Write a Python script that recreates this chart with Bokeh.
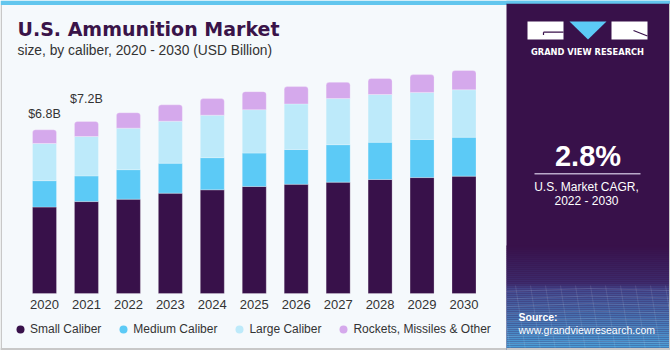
from bokeh.plotting import figure
from bokeh.models import ColumnDataSource, Range1d, Legend, LegendItem
from bokeh.core.properties import value
from bokeh.embed import file_html
from bokeh.resources import INLINE

# ---------------- data ----------------
years = [2020, 2021, 2022, 2023, 2024, 2025, 2026, 2027, 2028, 2029, 2030]
small_caliber = [3.60, 3.83, 3.93, 4.18, 4.32, 4.46, 4.55, 4.64, 4.75, 4.83, 4.89]
medium_caliber = [1.10, 1.07, 1.23, 1.25, 1.34, 1.39, 1.45, 1.56, 1.55, 1.59, 1.62]
large_caliber = [1.55, 1.64, 1.73, 1.75, 1.77, 1.81, 1.90, 1.92, 1.99, 1.96, 1.98]
rockets_other = [0.57, 0.63, 0.64, 0.68, 0.69, 0.75, 0.72, 0.68, 0.67, 0.74, 0.80]
series_names = ["Small Caliber", "Medium Caliber", "Large Caliber",
                "Rockets, Missiles & Other"]
series_keys = ["small", "medium", "large", "rockets"]
series_colors = ["#38114a", "#5ccaf6", "#bdeafa", "#d5a9ec"]
year_labels = [str(y) for y in years]
label_years = [2020, 2021]
label_texts = ["$6.8B", "$7.2B"]
title_text = "U.S. Ammunition Market"
subtitle_text = "size, by caliber, 2020 - 2030 (USD Billion)"
cagr_value = "2.8%"
cagr_lines = ["U.S. Market CAGR,", "2022 - 2030"]

TXT = "#333333"
PURPLE = "#38114a"
BG = "#f5f9fc"
FONT = "Liberation Sans"

W, H = 670, 350
BASE = 293          # pixel row of the bar baseline
PX_PER_B = 24.0
spacing_px = 41.95
x0 = years[0] - 44.0 / spacing_px
x1 = x0 + W / spacing_px

p = figure(width=W, height=H, x_range=Range1d(x0, x1),
           y_range=Range1d(-(H - BASE) / PX_PER_B, BASE / PX_PER_B),
           toolbar_location=None, output_backend="svg", min_border=0,
           x_axis_location=None, y_axis_location=None)
p.background_fill_color = BG
p.border_fill_color = BG
p.outline_line_color = None
p.grid.visible = False
p.extra_x_ranges = {"px": Range1d(0, W)}
p.extra_y_ranges = {"px": Range1d(H, 0)}
PX = dict(x_range_name="px", y_range_name="px")


def ptext(x, y, text, size, color="white", bold=False, align="left",
          font=FONT):
    p.text(x=[x], y=[y], text=[text], text_font=value(font),
           text_font_size=size, text_font_style="bold" if bold else "normal",
           text_color=color, text_align=align, text_baseline="middle",
           **PX)


# ---------- bars ----------
src = ColumnDataSource(dict(year=years, small=small_caliber,
                            medium=medium_caliber, large=large_caliber,
                            rockets=rockets_other))
p.vbar_stack(series_keys, x="year", width=24.0 / spacing_px, source=src,
             color=series_colors, line_color="white", line_alpha=0.25,
             line_width=1, border_radius=[0, 0, 0, (3, 3, 0, 0)])

# year tick labels under each bar
p.text(x=years, y=[0] * len(years), text=year_labels, y_offset=10.5,
       text_align="center", text_baseline="middle", text_font=value(FONT),
       text_font_size="13px", text_color=TXT)

# value labels above the first two bars
totals = [s + m + l + r for s, m, l, r in zip(small_caliber, medium_caliber,
                                               large_caliber, rockets_other)]
for yr, txt, off in zip(label_years, label_texts, [-16, -22]):
    p.text(x=[yr], y=[totals[years.index(yr)]], text=[txt], y_offset=off,
           text_align="center", text_baseline="middle",
           text_font=value(FONT), text_font_size="12.5px", text_color=TXT)

# ---------- legend (circle markers) ----------
items = []
for key, name, col in zip(series_keys, series_names, series_colors):
    r = p.scatter(x="year", y=key, source=src, marker="circle", size=0,
                  fill_color=col, line_color=None)
    items.append(LegendItem(label=name, renderers=[r]))
legend = Legend(items=items, orientation="horizontal", location=(10, 10),
                margin=0, padding=0, spacing=12, glyph_width=20,
                glyph_height=22, label_standoff=0, label_height=22,
                label_text_font=FONT, label_text_font_size="12px",
                label_text_color=TXT, border_line_color=None,
                background_fill_alpha=0)
p.add_layout(legend)

# ---------- frame decorations ----------
p.quad(left=0, right=W, top=0, bottom=4.5, color="#62c6ee", line_color=None, **PX)
p.quad(left=0, right=1.5, top=4.5, bottom=H, color="#c8c8c8", line_color=None, **PX)
p.quad(left=0, right=506, top=347.5, bottom=H, color="#c8c8c8", line_color=None, **PX)

ptext(17, 28.5, title_text, "19px", color="#3a1449", bold=True, font="DejaVu Sans")
ptext(17, 49.5, subtitle_text, "13.8px", color=TXT)

# ---------- right panel ----------
p.quad(left=506, right=W, top=3, bottom=H, color=PURPLE, line_color=None, **PX)


def hex2rgb(h):
    h = h.lstrip("#")
    return [int(h[i:i + 2], 16) for i in (0, 2, 4)]


stops = [(245, PURPLE), (282, "#3d2c6e"), (288, "#444a8e"), (352, "#4aa8e0")]
gl, gr, gt, gb, gc = [], [], [], [], []
yy = 245
while yy < H:
    for (ya, ca), (yb, cb) in zip(stops[:-1], stops[1:]):
        if ya <= yy < yb:
            t = (yy - ya) / (yb - ya)
            a, b = hex2rgb(ca), hex2rgb(cb)
            c = [round(a[i] + (b[i] - a[i]) * t) for i in range(3)]
            gc.append("#%02x%02x%02x" % tuple(c))
    gl.append(506); gr.append(W); gt.append(yy); gb.append(yy + 2)
    yy += 2
p.quad(left=gl, right=gr, top=gt, bottom=gb, color=gc, line_color=None, **PX)

# faint mesh texture
mx = [[506 + k * 15 - 6, 506 + k * 15 + 4] for k in range(12)]
my = [[285, H] for k in range(12)]
for k in range(9):
    ya = 288 + k * 7.5
    mx.append([506, 588, W]); my.append([ya + 3, ya, ya + 2])
p.multi_line(xs=mx, ys=my, line_color="white", line_alpha=0.10, line_width=1, **PX)

p.quad(left=506, right=W, top=0, bottom=3, color="#62c6ee", line_color=None, **PX)
p.quad(left=668.5, right=W, top=3, bottom=H, color="#c8c8c8", line_color=None, **PX)
p.quad(left=506, right=W, top=347.5, bottom=H, color="#c8c8c8", line_color=None, **PX)

# logo
p.quad(left=[527, 611], right=[563, 647], top=[21, 21], bottom=[39, 39],
       color="white", line_color=None, **PX)
p.patch(x=[569, 606, 587.5], y=[21, 21, 39], color="#5ccaf6", line_color=None, **PX)
p.multi_line(xs=[[543, 563], [543, 543], [633, 647]],
             ys=[[31.7, 31.7], [31.7, 34.5], [30, 35.5]],
             line_color=PURPLE, line_width=1.2, **PX)
ptext(587, 51.5, "GRAND VIEW RESEARCH", "8.3px", bold=True, align="center",
      font="DejaVu Sans")

ptext(587.5, 155.5, cagr_value, "29px", bold=True, align="center")
p.line(x=[534, 640], y=[173.3, 173.3], line_color="#b9a9c9", line_width=1.5, **PX)
ptext(586, 186, cagr_lines[0], "12px", align="center")
ptext(586, 200, cagr_lines[1], "12px", align="center")

ptext(518, 316, "Source:", "10.5px", bold=True)
ptext(518, 329.5, "www.grandviewresearch.com", "10.5px")

open("out.html", "w").write(file_html(p, INLINE))
